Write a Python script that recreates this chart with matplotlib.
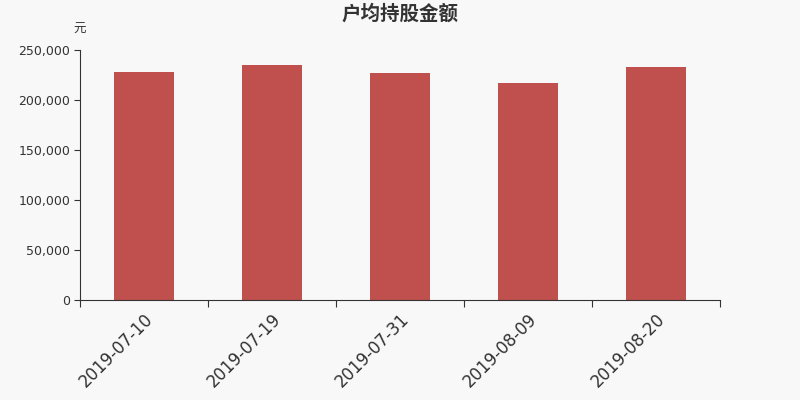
import matplotlib
matplotlib.use("Agg")
import matplotlib.pyplot as plt
from matplotlib.ticker import FuncFormatter, FixedLocator
import numpy as np

plt.rcParams['font.family'] = ['Noto Sans CJK SC', 'DejaVu Sans']

categories = ["2019-07-10", "2019-07-19", "2019-07-31", "2019-08-09", "2019-08-20"]
values = [228300, 234700, 227000, 217300, 233000]
title = "户均持股金额"
unit = "元"

bg = "#f8f8f8"
fig = plt.figure(figsize=(8, 4), dpi=100, facecolor=bg)
ax = fig.add_axes([0.1, 0.25, 0.8, 0.625], facecolor=bg)
x = np.arange(len(categories))
ax.bar(x, values, width=0.47, color="#c0504d", zorder=2)
ax.set_xlim(-0.5, len(categories) - 0.5)
ax.set_ylim(0, 250000)
ax.set_yticks(np.arange(0, 250001, 50000))
ax.yaxis.set_major_formatter(FuncFormatter(lambda v, p: f"{int(v):,}"))
ax.xaxis.set_major_locator(FixedLocator(np.arange(-0.5, len(categories), 1.0)))
ax.set_xticklabels([])
ax.xaxis.set_minor_locator(FixedLocator(x))
ax.set_xticklabels(categories, minor=True, rotation=45, ha="right", rotation_mode="anchor",
                   fontsize=12, color="#333333", family="DejaVu Sans")
ax.tick_params(axis="x", which="minor", length=0, pad=7)
ax.tick_params(axis="x", which="major", length=5, color="#333333")
ax.tick_params(axis="y", length=4, pad=3, color="#333333", labelsize=9, labelcolor="#333333")
for lab in ax.get_yticklabels():
    lab.set_family("DejaVu Sans")
for s in ["top", "right"]:
    ax.spines[s].set_visible(False)
for s in ["left", "bottom"]:
    ax.spines[s].set_color("#333333")
fig.text(0.5, 0.965, title, ha="center", va="center", fontsize=14, fontweight="bold", color="#333333")
fig.text(0.099, 0.927, unit, ha="center", va="center", fontsize=9, color="#333333")
fig.savefig("out.png", dpi=100, facecolor=bg)
